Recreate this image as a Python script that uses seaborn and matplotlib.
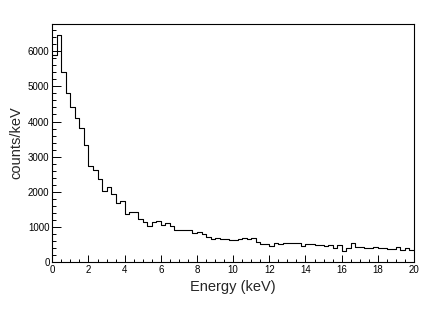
import numpy as np
import pandas as pd
import matplotlib
matplotlib.use("Agg")
import matplotlib.pyplot as plt
from matplotlib.ticker import MultipleLocator
import seaborn as sns


# histogram of energy, 80 bins of 0.25 keV from 0 to 20 keV
E_MIN = 0.0
E_MAX = 20.0
BIN_WIDTH = 0.25

counts_low = [
    5900, 6450, 5400, 4820, 4400, 4100, 3815, 3340, 2730, 2610,
    2360, 2035, 2140, 1950, 1685, 1740, 1355, 1410, 1410, 1213,
    1145, 1030, 1145, 1175, 1060,
]
counts_mid = [
    1100, 1022, 910, 910, 915, 900, 815, 845, 795, 700,
    645, 670, 645, 645, 625, 625, 650, 670, 645, 670,
    577, 503, 510, 463, 530, 510, 530,
]
counts_high = [
    530, 530, 550, 455, 510, 510, 490, 480, 455, 480,
    406, 474, 300, 390, 548, 435, 420, 400, 395, 420,
    400, 395, 380, 370, 420, 350, 390, 350,
]
counts = counts_low + counts_mid + counts_high


def main():
    sns.set_style("ticks")
    plt.rcParams["font.family"] = ["Liberation Sans", "DejaVu Sans"]

    centers = E_MIN + BIN_WIDTH * (np.arange(len(counts)) + 0.5)
    df = pd.DataFrame({"energy": centers, "counts": counts})

    fig = plt.figure(figsize=(4.36, 3.09), dpi=100)
    ax = fig.add_axes([0.12, 0.152, 0.8295, 0.77])

    sns.histplot(
        data=df,
        x="energy",
        weights="counts",
        binwidth=BIN_WIDTH,
        binrange=(E_MIN, E_MAX),
        element="step",
        fill=False,
        color="black",
        linewidth=0.8,
        ax=ax,
    )

    ax.set_xlim(E_MIN, E_MAX)
    ax.set_ylim(0, 1.05 * max(counts))

    ax.xaxis.set_major_locator(MultipleLocator(2))
    ax.xaxis.set_minor_locator(MultipleLocator(0.5))
    ax.yaxis.set_major_locator(MultipleLocator(1000))
    ax.yaxis.set_minor_locator(MultipleLocator(200))

    ax.tick_params(axis="both", which="both", direction="in",
                   top=False, right=False, width=0.7, labelsize=7, colors="black")
    ax.tick_params(axis="y", which="major", length=6.5, pad=2)
    ax.tick_params(axis="y", which="minor", length=3)
    ax.tick_params(axis="x", which="major", length=5, pad=2)
    ax.tick_params(axis="x", which="minor", length=2.5)

    for spine in ax.spines.values():
        spine.set_visible(True)
        spine.set_linewidth(0.8)
        spine.set_color("black")

    ax.set_xlabel("Energy (keV)", fontsize=10.5, labelpad=4)
    ax.set_ylabel("counts/keV", fontsize=10.5, labelpad=3)

    fig.savefig("out.png", dpi=100)
    plt.close(fig)


if __name__ == "__main__":
    main()
